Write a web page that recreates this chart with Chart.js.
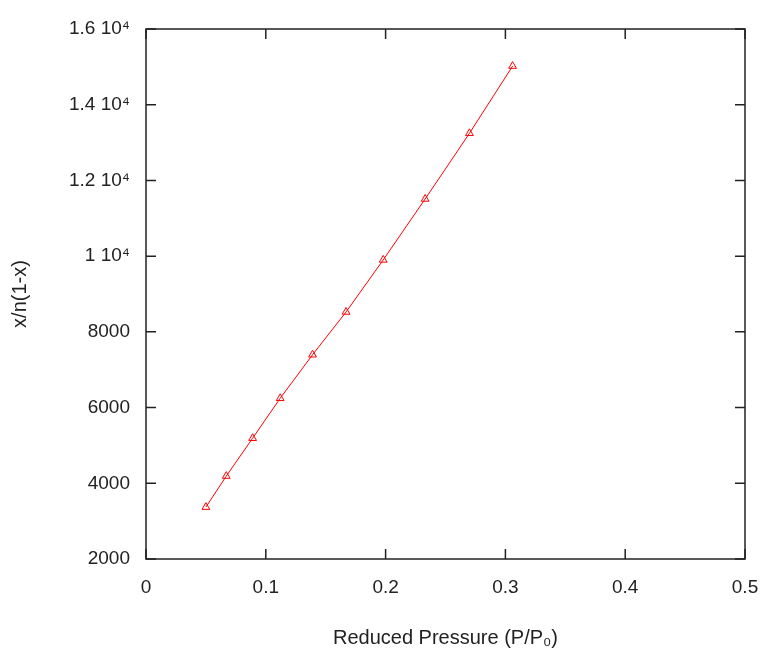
<!DOCTYPE html>
<html lang="en">
<head>
    <meta charset="UTF-8">
    <title>Reduced Pressure</title>
    <script src="https://cdn.jsdelivr.net/npm/chart.js"></script>
    <style>
        html, body { margin: 0; padding: 0; background: #fff; }
        #wrap { width: 763px; height: 655px; }
    </style>
</head>
<body>
    <div id="wrap"><canvas id="bet"></canvas></div>

    <script>
        // values
        let pressure = [0.050, 0.067, 0.089, 0.112, 0.139, 0.167, 0.198, 0.233, 0.270, 0.306];
        let bet = [3370, 4190, 5190, 6245, 7395, 8525, 9900, 11510, 13245, 15020];
        let xTicks = [0, 0.1, 0.2, 0.3, 0.4, 0.5];
        let yTicks = [2000, 4000, 6000, 8000, 10000, 12000, 14000, 16000];
        let yTickLabels = ["2000", "4000", "6000", "8000", "1 10\u2074", "1.2 10\u2074", "1.4 10\u2074", "1.6 10\u2074"];

        let ink = "#222";
        Chart.defaults.font.family = "'Liberation Sans', Arial, sans-serif";
        Chart.defaults.font.size = 19;
        Chart.defaults.color = ink;

        // gnuplot style frame with inward ticks
        let framePlugin = {
            id: "frame",
            afterDraw(chart) {
                let ctx = chart.ctx;
                let a = chart.chartArea;
                let xs = chart.scales.x, ys = chart.scales.y;
                let len = 10;
                ctx.save();
                ctx.strokeStyle = ink;
                ctx.lineWidth = 1.5;
                ctx.strokeRect(a.left, a.top, a.right - a.left, a.bottom - a.top);
                ctx.beginPath();
                xs.ticks.forEach((t, i) => {
                    let px = xs.getPixelForTick(i);
                    ctx.moveTo(px, a.bottom); ctx.lineTo(px, a.bottom - len);
                    ctx.moveTo(px, a.top); ctx.lineTo(px, a.top + len);
                });
                ys.ticks.forEach((t, i) => {
                    let py = ys.getPixelForTick(i);
                    ctx.moveTo(a.left, py); ctx.lineTo(a.left + len, py);
                    ctx.moveTo(a.right, py); ctx.lineTo(a.right - len, py);
                });
                ctx.stroke();
                ctx.restore();
            }
        };

        new Chart(document.getElementById("bet"), {
            type: "line",
            data: {
                datasets: [{
                    data: pressure.map((p, i) => ({ x: p, y: bet[i] })),
                    borderColor: "#ff0000",
                    borderWidth: 1,
                    backgroundColor: "rgba(0,0,0,0)",
                    pointStyle: "triangle",
                    pointRadius: 4.5,
                    pointBorderWidth: 1,
                    pointBorderColor: "#ff0000",
                    pointBackgroundColor: "rgba(0,0,0,0)",
                    tension: 0
                }]
            },
            options: {
                responsive: true,
                maintainAspectRatio: false,
                animation: false,
                layout: { padding: { top: 29, right: 18, left: 0, bottom: 0 } },
                plugins: {
                    legend: { display: false },
                    tooltip: { enabled: false }
                },
                scales: {
                    x: {
                        type: "linear",
                        min: 0,
                        max: 0.5,
                        afterBuildTicks(scale) { scale.ticks = xTicks.map(v => ({ value: v })); },
                        afterFit(scale) {
                            scale.height = 96;
                            scale.paddingLeft = 0;
                            scale.paddingRight = 0;
                        },
                        grid: { display: false, drawTicks: false },
                        border: { display: false },
                        ticks: {
                            padding: 17,
                            callback: v => String(v)
                        },
                        title: {
                            display: true,
                            text: "Reduced Pressure (P/P\u2080)",
                            font: { size: 20 },
                            padding: { top: 0, bottom: 5 }
                        }
                    },
                    y: {
                        type: "linear",
                        min: 2000,
                        max: 16000,
                        afterBuildTicks(scale) { scale.ticks = yTicks.map(v => ({ value: v })); },
                        afterFit(scale) {
                            scale.width = 146;
                            scale.paddingTop = 0;
                            scale.paddingBottom = 0;
                        },
                        grid: { display: false, drawTicks: false },
                        border: { display: false },
                        ticks: {
                            padding: 16,
                            callback: v => yTickLabels[yTicks.indexOf(v)]
                        },
                        title: {
                            display: true,
                            text: "x/n(1-x)",
                            font: { size: 20 },
                            padding: { top: 8, bottom: 10 }
                        }
                    }
                }
            },
            plugins: [framePlugin]
        });
    </script>
</body>
</html>
